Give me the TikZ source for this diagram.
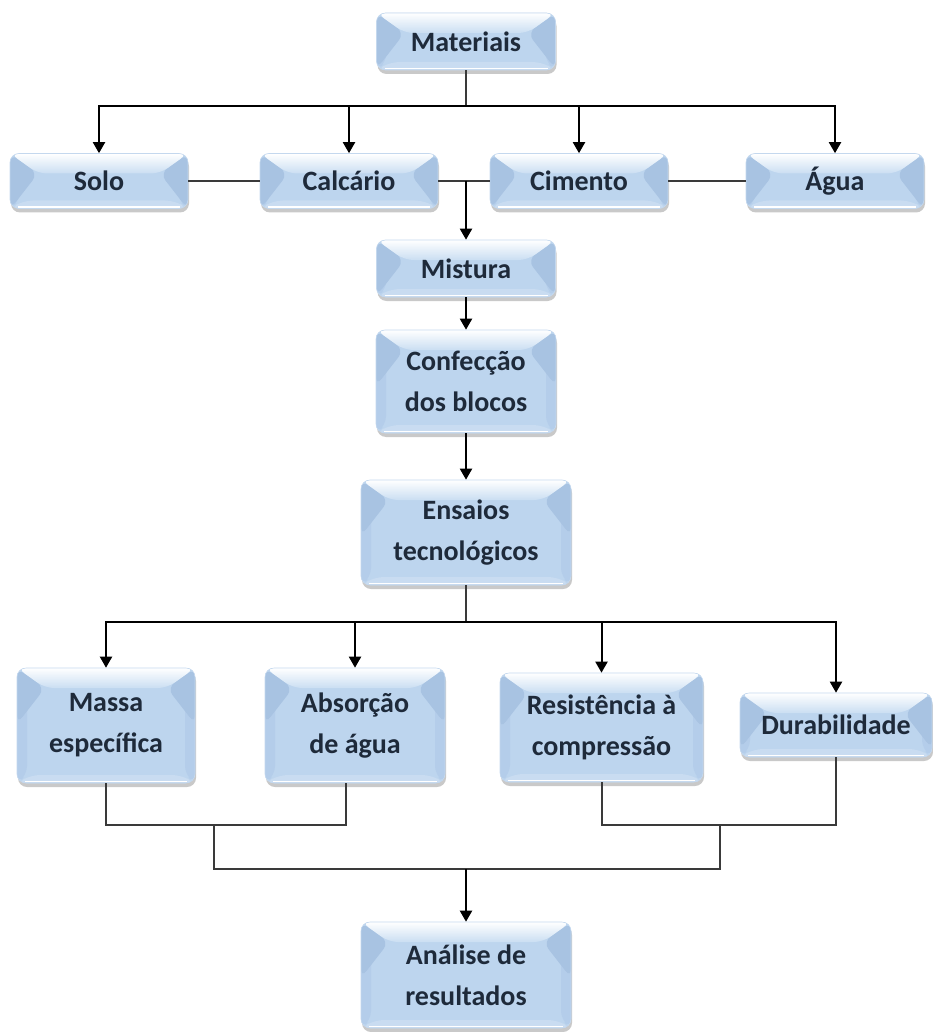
\documentclass[tikz,border=0pt]{standalone}
\usepackage{fontspec}
\setmainfont{Carlito}
\usetikzlibrary{arrows.meta,shadows,calc}
\definecolor{boxmid}{HTML}{BDD5EE}
\definecolor{boxtop}{HTML}{CADEF2}
\definecolor{boxside}{HTML}{A8C3E2}
\definecolor{boxband}{HTML}{B4CDEA}
\definecolor{boxbot}{HTML}{C9DCF1}
\definecolor{boxedge}{HTML}{C4D8EE}
\definecolor{txt}{HTML}{1E2A3A}
\definecolor{lncol}{HTML}{3A3A3A}
\newcommand{\boxfont}{\fontsize{28}{41}\selectfont\bfseries}
\tikzset{
  box/.style={rounded corners=9pt, fill=boxmid, draw=boxedge, line width=0.6pt,
    font=\boxfont, text=txt, align=center, inner sep=0pt,
    drop shadow={shadow xshift=1pt, shadow yshift=-4pt, opacity=.35, fill=black!60},
    path picture={
      \coordinate (NW) at (path picture bounding box.north west);
      \coordinate (NE) at (path picture bounding box.north east);
      \coordinate (SW) at (path picture bounding box.south west);
      \coordinate (SE) at (path picture bounding box.south east);
      \fill[boxband] (NW) -- ($(NW)+(10pt,-10pt)$) -- ($(SW)+(10pt,8pt)$) -- (SW) -- cycle;
      \fill[boxband] (NE) -- ($(NE)+(-10pt,-10pt)$) -- ($(SE)+(-10pt,8pt)$) -- (SE) -- cycle;
      \fill[boxside] (NW) -- ($(NW)+(28pt,-20pt)$) -- ($(NW)+(0pt,-56pt)$) -- cycle;
      \fill[boxside] (NE) -- ($(NE)+(-28pt,-20pt)$) -- ($(NE)+(0pt,-56pt)$) -- cycle;
      \shade[top color=white, bottom color=boxtop] (NW) -- (NE) -- ($(NE)+(-28pt,-20pt)$) -- ($(NW)+(28pt,-20pt)$) -- cycle;
      \fill[boxbot] (SW) -- (SE) -- ($(SE)+(-14pt,8pt)$) -- ($(SW)+(14pt,8pt)$) -- cycle;
      \draw[white, line width=1.5pt] ($(SW)+(8pt,1.5pt)$) -- ($(SE)+(-8pt,1.5pt)$);
    }},
  arr/.style={line width=2pt, draw=black, -{Triangle[width=12pt,length=11pt]}},
  ln/.style={line width=2pt, draw=lncol},
}
\begin{document}
\begin{tikzpicture}[x=1pt,y=-1pt]
\useasboundingbox[fill=white] (0,0) rectangle (932,1032);
% nodes
\node[box, minimum width=179pt, minimum height=57pt] (mat) at (466,41.5) {Materiais};
\node[box, minimum width=178pt, minimum height=55pt] (solo) at (99,181) {Solo};
\node[box, minimum width=178pt, minimum height=55pt] (calc) at (349,181) {Calcário};
\node[box, minimum width=178pt, minimum height=55pt] (cim) at (579,181) {Cimento};
\node[box, minimum width=178pt, minimum height=55pt] (agua) at (835,181) {Água};
\node[box, minimum width=179pt, minimum height=57pt] (mis) at (466,268.5) {Mistura};
\node[box, minimum width=180pt, minimum height=103pt] (conf) at (466,381.5) {Confecção\\dos blocos};
\node[box, minimum width=210pt, minimum height=105pt] (ens) at (466,532.5) {Ensaios\\tecnológicos};
\node[box, minimum width=178pt, minimum height=115pt] (mas) at (106,725.5) {Massa\\específica};
\node[box, minimum width=180pt, minimum height=115pt] (abs) at (355,725.5) {Absorção\\de água};
\node[box, minimum width=203pt, minimum height=109pt] (res) at (601.5,727.5) {Resistência à\\compressão};
\node[box, minimum width=192pt, minimum height=64pt] (dur) at (836,725) {Durabilidade};
\node[box, minimum width=210pt, minimum height=106pt] (ana) at (466,975) {Análise de\\resultados};
% junctions
\coordinate (jm) at (466,106);
\coordinate (jc) at (466,181);
\coordinate (je) at (466,622);
\coordinate (jl) at (214,825);
\coordinate (jr) at (720,825);
\coordinate (jb) at (466,869);
% connectors top
\draw[ln] (mat) -- (jm);
\draw[arr] (jm) -| (solo);
\draw[arr] (jm) -| (calc);
\draw[arr] (jm) -| (cim);
\draw[arr] (jm) -| (agua);
\draw[ln] (solo) -- (calc);
\draw[ln] (calc) -- (cim);
\draw[ln] (cim) -- (agua);
\draw[arr] (jc) -- (mis);
\draw[arr] (mis) -- (conf);
\draw[arr] (conf) -- (ens);
% tests
\draw[ln] (ens) -- (je);
\draw[arr] (je) -| (mas);
\draw[arr] (je) -| (abs);
\draw[arr] (je) -| (res);
\draw[arr] (je) -| (dur);
% bottom
\draw[ln] (mas) |- (jl);
\draw[ln] ([xshift=-9pt]abs.south) |- (jl);
\draw[ln] (res) |- (jr);
\draw[ln] (dur) |- (jr);
\draw[ln] (jl) |- (jb) -| (jr);
\draw[arr] (jb) -- (ana);
\end{tikzpicture}
\end{document}
